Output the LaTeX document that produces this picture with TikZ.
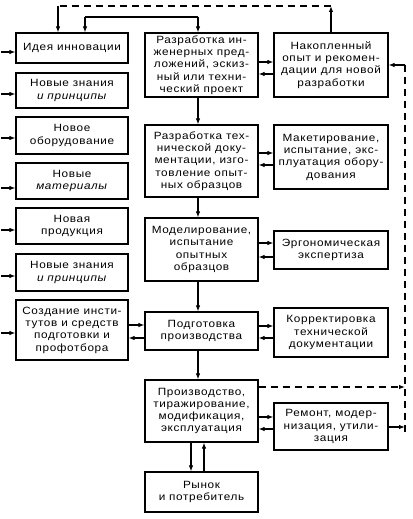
\documentclass[tikz,border=0pt]{standalone}
\usepackage{fontspec}
\setmainfont{Liberation Sans}[FakeStretch=1.12, LetterSpace=6]
\usetikzlibrary{arrows.meta}
\begin{document}
\begin{tikzpicture}[x=1pt,y=-1pt,
  box/.style={draw, line width=1.2pt, align=center, inner sep=1pt,
    font=\fontsize{10.5}{12.3}\selectfont},
  lbox/.style={box, minimum width=112pt},
  mbox/.style={box, minimum width=113pt},
  rbox/.style={box, minimum width=114pt},
  arr/.style={line width=1.1pt, -{Latex[length=6pt,width=4.5pt]}},
  ln/.style={line width=1.1pt},
  dsh/.style={line width=1.1pt, dash pattern=on 7pt off 5pt}]
\useasboundingbox (0,0) rectangle (412,519);
% left column
\node[lbox, minimum height=30pt] (l1) at (72,48) {Идея инновации};
\node[lbox, minimum height=35pt] (l2) at (72,90.5) {Новые знания\\\textit{и принципы}};
\node[lbox, minimum height=37pt] (l3) at (72,135.5) {Новое\\оборудование};
\node[lbox, minimum height=36pt] (l4) at (72,181) {Новые\\\textit{материалы}};
\node[lbox, minimum height=36pt] (l5) at (72,226) {Новая\\продукция};
\node[lbox, minimum height=37pt] (l6) at (72,272.5) {Новые знания\\\textit{и принципы}};
\node[lbox, minimum height=60pt] (l7) at (72,330) {Создание инсти-\\тутов и средств\\подготовки и\\профотбора};
% middle column
\node[mbox, minimum height=64pt] (m1) at (201.5,65) {Разработка ин-\\женерных пред-\\ложений, эскиз-\\ный или техни-\\ческий проект};
\node[mbox, minimum height=72pt] (m2) at (201.5,161) {Разработка тех-\\нической доку-\\ментации, изго-\\товление опыт-\\ных образцов};
\node[mbox, minimum height=63pt] (m3) at (201.5,249.5) {Моделирование,\\испытание\\опытных\\образцов};
\node[mbox, minimum height=38pt] (m4) at (201.5,331) {Подготовка\\производства};
\node[mbox, minimum height=62pt] (m5) at (201.5,411) {Производство,\\тиражирование,\\модификация,\\эксплуатация};
\node[mbox, minimum height=40pt] (m6) at (201.5,492) {Рынок\\и потребитель};
% right column
\node[rbox, minimum height=64pt] (r1) at (331,65) {Накопленный\\опыт и рекомен-\\дации для новой\\разработки};
\node[rbox, minimum height=64pt] (r2) at (331,157) {Макетирование,\\испытание, экс-\\плуатация обору-\\дования};
\node[rbox, minimum height=38pt] (r3) at (331,250) {Эргономическая\\экспертиза};
\node[rbox, minimum height=49pt] (r4) at (331,332.5) {Корректировка\\технической\\документации};
\node[rbox, minimum height=47pt] (r5) at (331,426.5) {Ремонт, модер-\\низация, утили-\\зация};
% input arrows on the left
\foreach \n/\y in {l1/52,l2/94,l3/138,l4/188,l5/230,l6/276,l7/333}{
  \draw[arr] ([xshift=-14pt]\n.west |- 0,\y) -- (\n.west |- 0,\y);
}
% middle vertical flow
\foreach \a/\b in {m1/m2,m2/m3,m3/m4,m4/m5}{
  \draw[arr] (\a.south -| 198,0) -- (\b.north -| 198,0);
}
\draw[arr] (m5.south -| 191,0) -- (m6.north -| 191,0);
\draw[arr] (m6.north -| 204,0) -- (m5.south -| 204,0);
% middle <-> right pairs
\foreach \a/\b/\ya/\yb in {m1/r1/62/74,m2/r2/153/165,m3/r3/243/257,m4/r4/326/338,m5/r5/417/429}{
  \draw[arr] (\a.east |- 0,\ya) -- (\b.west |- 0,\ya);
  \draw[arr] (\b.west |- 0,\yb) -- (\a.east |- 0,\yb);
}
% left <-> Подготовка
\draw[arr] (l7.east |- 0,325) -- (m4.west |- 0,325);
\draw[arr] (m4.west |- 0,338) -- (l7.east |- 0,338);
% top connectors
\coordinate (tA) at (331,6);
\coordinate (tB) at (58,6);
\draw[arr] (r1.north) -- (tA);
\draw[dsh] (tA) -- (tB);
\draw[arr] (tB) -- (l1.north -| tB);
\coordinate (sA) at (85,17);
\coordinate (sB) at (198,17);
\draw[ln] (sA) -- (sB);
\draw[arr] (sA) -- (l1.north -| sA);
\draw[arr] (sB) -- (m1.north -| sB);
% right feedback line
\coordinate (vT) at (405,65);
\coordinate (vB) at (405,432);
\draw[dsh] (vT) -- (vB);
\draw[arr] (vT) -- (r1.east |- vT);
\draw[dsh, -{Latex[length=6pt,width=4.5pt]}] (m5.east |- 0,387) -- (405,387);
\draw[arr] (r5.east |- 0,427) -- (405,427);
\end{tikzpicture}
\end{document}
